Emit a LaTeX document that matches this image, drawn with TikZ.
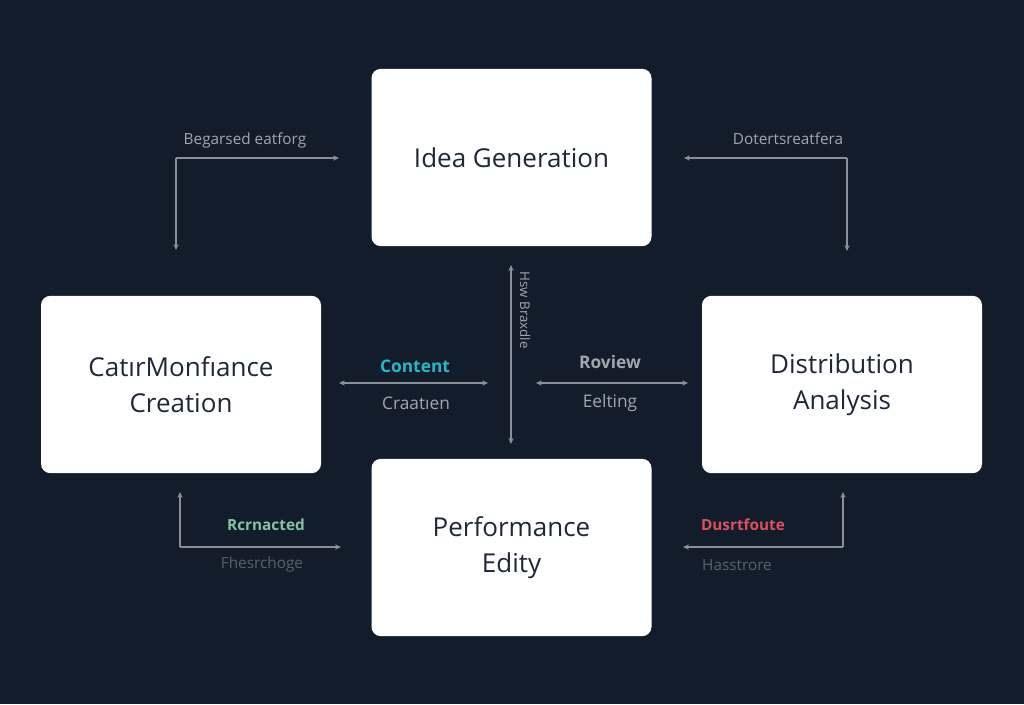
\documentclass[tikz,border=0pt]{standalone}
\usepackage{fontspec}
\setmainfont{Open Sans}
\usetikzlibrary{arrows.meta}
\definecolor{bg}{HTML}{131C2B}
\definecolor{boxtxt}{HTML}{1F2838}
\definecolor{lne}{HTML}{8A8F98}
\definecolor{lbl}{HTML}{A3A7AE}
\definecolor{dim}{HTML}{59616C}
\definecolor{cyanl}{HTML}{2BB5C9}
\definecolor{greenl}{HTML}{86C4A0}
\definecolor{redl}{HTML}{D9505F}
\tikzset{
  card/.style={fill=white, rounded corners=7pt, minimum width=210pt, minimum height=133pt, inner sep=0pt, align=center, font=\fontsize{19.5}{27}\selectfont, text=boxtxt},
  conn/.style={draw=lne, line width=1.1pt, -{Stealth[length=4.5pt,width=4pt]}},
  conn2/.style={draw=lne, line width=1.1pt, {Stealth[length=4.5pt,width=4pt]}-{Stealth[length=4.5pt,width=4pt]}},
  lab/.style={font=\fontsize{11.5}{14}\selectfont, text=lbl, inner sep=0pt},
  midlab/.style={font=\fontsize{13}{16}\selectfont\bfseries, inner sep=0pt},
}
\begin{document}
\begin{tikzpicture}[x=0.75pt,y=-0.75pt]
\fill[bg] (0,0) rectangle (1024,704);
\useasboundingbox (0,0) rectangle (1024,704);
% cards
\node[card] (idea) at (511.5,157.5) {Idea Generation};
\node[card] (left) at (181,384.5) {CatırMonfıance\\Creation};
\node[card] (right) at (842,384.5) {Distribution\\Analysis};
\node[card] (perf) at (511.5,547.5) {Performance\\Edity};
% top-left connector
\coordinate (tla) at (176,250);
\coordinate (tlc) at (176,158);
\coordinate (tlb) at (339,158);
\draw[conn] (tlc) -- (tlb);
\draw[conn] (tlc) -- (tla);
\node[lab] (tll) at (245,140) {Begarsed eatforg};
% top-right connector
\coordinate (trc) at (847,158);
\coordinate (tra) at (684,158);
\coordinate (trb) at (847,251);
\draw[conn] (trc) -- (tra);
\draw[conn] (trc) -- (trb);
\node[lab] (trl) at (788,139) {Dotertsreatfera};
% middle vertical
\coordinate (mvt) at (511,265);
\coordinate (mvb) at (511,444);
\draw[conn2] (mvt) -- (mvb);
\node[lab, font=\fontsize{10}{12}\selectfont, rotate=-90] (mvl) at (525,310) {Hsw Braxdle};
% middle left
\coordinate (mla) at (339,383);
\coordinate (mlb) at (488,383);
\draw[conn2] (mla) -- (mlb);
\node[midlab, text=cyanl] (mlt) at (415,366) {Content};
\node[midlab, font=\fontsize{13}{16}\selectfont, text=lbl] (mlu) at (416,403) {Craatıen};
% middle right
\coordinate (mra) at (536,383);
\coordinate (mrb) at (688,383);
\draw[conn2] (mra) -- (mrb);
\node[midlab, text=lbl] (mrt) at (610,362) {Roview};
\node[midlab, font=\fontsize{13}{16}\selectfont, text=lbl] (mru) at (610,403) {Eelting};
% bottom-left connector
\coordinate (blc) at (180,547);
\coordinate (bla) at (180,492);
\coordinate (blb) at (341,547);
\draw[conn] (blc) -- (bla);
\draw[conn] (blc) -- (blb);
\node[midlab, font=\fontsize{11.5}{14}\selectfont\bfseries, text=greenl] (blt) at (266,525) {Rcrnacted};
\node[lab, text=dim] (blu) at (262,565) {Fhesrchoge};
% bottom-right connector
\coordinate (brc) at (843,547);
\coordinate (bra) at (843,492);
\coordinate (brb) at (683,547);
\draw[conn] (brc) -- (bra);
\draw[conn] (brc) -- (brb);
\node[midlab, font=\fontsize{11.5}{14}\selectfont\bfseries, text=redl] (brt) at (743,525) {Dusrtfoute};
\node[lab, text=dim] (bru) at (737,565) {Hasstrore};
\end{tikzpicture}
\end{document}
